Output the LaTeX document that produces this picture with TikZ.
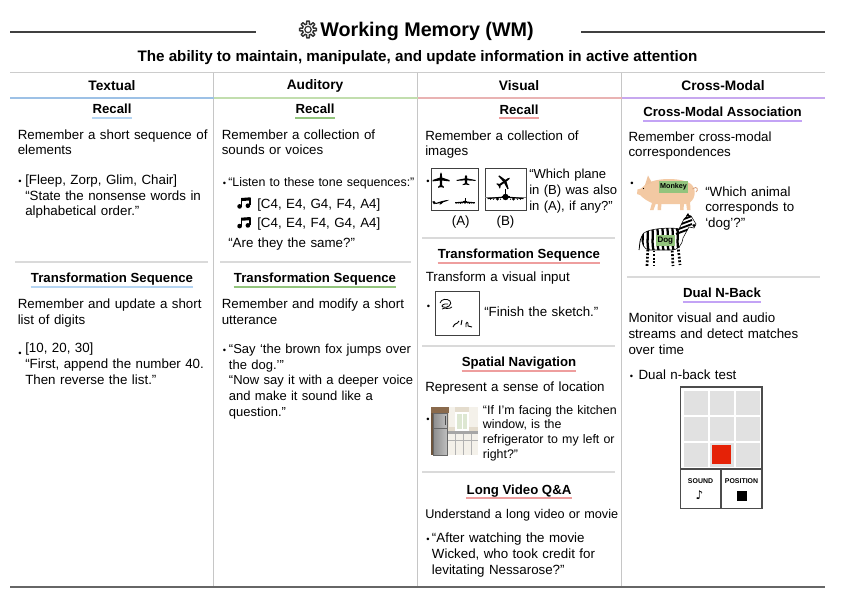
\documentclass[tikz,border=0pt]{standalone}
\usepackage{fontspec}
\setmainfont{Liberation Sans}
\newfontfamily\symfont{DejaVu Sans}
\usetikzlibrary{calc}
\definecolor{hblue}{HTML}{9DC1E6}
\definecolor{hgreen}{HTML}{C2DEAE}
\definecolor{hpink}{HTML}{E9B3B3}
\definecolor{hpurple}{HTML}{C7A8EF}
\definecolor{ublue}{HTML}{B5D5F3}
\definecolor{ugreen}{HTML}{92C47C}
\definecolor{upink}{HTML}{EE9E9E}
\definecolor{upurple}{HTML}{C3A3F5}
\definecolor{sepgray}{HTML}{DADADA}
\definecolor{divgray}{HTML}{C6C6C6}
\definecolor{cellgray}{HTML}{E1E1E1}
\definecolor{nred}{HTML}{E52207}
\definecolor{lblgreen}{HTML}{93C47D}
\definecolor{pigpink}{HTML}{F3C9A3}
\definecolor{pigedge}{HTML}{D9A07A}
\definecolor{kbeige}{HTML}{E4DCCD}
\definecolor{kwood}{HTML}{8A6A4C}
\definecolor{kwhite}{HTML}{F4F1EA}
\definecolor{kwin}{HTML}{DDE7D2}
\newcommand\bodyfont{\fontsize{10pt}{11.8pt}\selectfont}
\newcommand\smallbody{\fontsize{9.3pt}{11.1pt}\selectfont}
\newcommand\hdrfont{\fontsize{10.3pt}{12pt}\selectfont\bfseries}
\newcommand\sectfont{\fontsize{9.9pt}{12pt}\selectfont\bfseries}
\newcommand\bulfont{\fontsize{7pt}{8pt}\selectfont}
\newcommand\uline[2]{\draw[#2,line width=1.5pt] ($(#1.base west)+(0,4.3)$) -- ($(#1.base east)+(0,4.3)$);}
\newcommand\beamednotes[2]{%
  \fill (#1+2.6,#2-1.6) circle[radius=1.75pt];
  \fill (#1+10.9,#2-2.3) circle[radius=1.75pt];
  \draw[line width=1pt] (#1+4.7,#2-1.9) -- (#1+4.7,#2-9.3);
  \draw[line width=1pt] (#1+13,#2-2.6) -- (#1+13,#2-10);
  \fill (#1+4.2,#2-10) -- (#1+13.5,#2-10.7) -- (#1+13.5,#2-7.6) -- (#1+4.2,#2-6.9) -- cycle;}
\tikzset{
  body/.style={anchor=base west,inner sep=0pt,font=\bodyfont,text width=144pt,align=left},
  hdr/.style={anchor=base,inner sep=0pt,font=\hdrfont},
  sect/.style={anchor=base,inner sep=0pt,font=\sectfont},
  bul/.style={anchor=base west,inner sep=0pt,font=\bulfont},
  sepline/.style={draw=sepgray,line width=1.5pt},
  divline/.style={draw=divgray,line width=0.75pt},
  tiny/.style={anchor=base,inner sep=0pt,font=\fontsize{5.2pt}{6pt}\selectfont\bfseries},
  imgbox/.style={draw=black!75,line width=0.6pt,fill=white},
  plane/.pic={
    \fill (0,-9) .. controls (1.2,-8) and (1.2,-6) .. (1.2,-4) -- (1.2,6) -- (3.5,8) -- (3.5,9.2) -- (0.6,8.5) -- (-0.6,8.5) -- (-3.5,9.2) -- (-3.5,8) -- (-1.2,6) -- (-1.2,-4) .. controls (-1.2,-6) and (-1.2,-8) .. (0,-9) -- cycle;
    \fill (-1,-3) -- (-10,0) -- (-10,1.6) -- (-1,0.6) -- cycle;
    \fill (1,-3) -- (10,0) -- (10,1.6) -- (1,0.6) -- cycle;
  },
  sideplane/.pic={
    \fill (-10,0) .. controls (-6,-1.2) and (6,-1.4) .. (10,0) .. controls (6,1.2) and (-6,1.2) .. (-10,0) -- cycle;
    \fill (-10,0) -- (-11,-3.5) -- (-8.5,-3.5) -- (-7,-0.5) -- cycle;
    \fill (-2,0) -- (3,0) -- (-1,2.5) -- (-3,2.5) -- cycle;
  },
  frontplane/.pic={
    \draw[line width=0.9pt] (-18,1.5) -- (0,0) -- (18,1.5);
    \fill (0,0) circle[radius=2.4pt];
    \fill (-0.6,-8) rectangle (0.6,0);
    \draw[line width=0.6pt] (-4,-1) -- (4,-1);
    \fill (-8,2) circle[radius=1.2pt];
    \fill (8,2) circle[radius=1.2pt];
    \foreach \q in {-15,-12,-5,5,12,15} \fill (\q,2.3) circle[radius=0.5pt];
  }
}
\begin{document}
\begin{tikzpicture}[x=0.75pt,y=-0.75pt]
\useasboundingbox (0,0) rectangle (853,594);
\fill[white] (0,0) rectangle (853,594);

% ---------- title ----------
\draw[draw=black!80,line width=1.1pt,samples=241,domain=0:360,variable=\t]
  plot ({308+(7.0+1.4*max(-1,min(1,2.5*cos(8*\t))))*cos(\t)},{29.5+(7.0+1.4*max(-1,min(1,2.5*cos(8*\t))))*sin(\t)}) -- cycle;
\draw[draw=black!80,line width=0.9pt] (308,29.5) circle[radius=2.4pt];
\node[anchor=base west,inner sep=0pt,font=\fontsize{14.8pt}{18pt}\selectfont\bfseries] (title) at (320,36.5) {Working Memory (WM)};
\draw[draw=black!75,line width=1.1pt] (10,32) -- (256,32);
\draw[draw=black!75,line width=1.1pt] (581,32) -- (825,32);
\node[anchor=base,inner sep=0pt,font=\fontsize{11.4pt}{14pt}\selectfont\bfseries] (subtitle) at (417.5,61.7) {The ability to maintain, manipulate, and update information in active attention};

% ---------- frame ----------
\draw[draw=black!20,line width=1.1pt] (10,72.5) -- (825,72.5);
\draw[divline] (213.5,72.5) -- (213.5,586);
\draw[divline] (417.5,72.5) -- (417.5,586);
\draw[divline] (621.5,72.5) -- (621.5,586);
\draw[draw=black!60,line width=1.5pt] (10,586.5) -- (825,586.5);

\node[hdr] (h1) at (112,90.7) {Textual};
\node[hdr] (h2) at (315,89.5) {Auditory};
\node[hdr] (h3) at (519,90.7) {Visual};
\node[hdr] (h4) at (723,90.7) {Cross-Modal};
\draw[hblue,line width=2pt] (10,98) -- (213.5,98);
\draw[hgreen,line width=2pt] (213.5,98) -- (417.5,98);
\draw[hpink,line width=2pt] (417.5,98) -- (621.5,98);
\draw[hpurple,line width=2pt] (621.5,98) -- (825,98);

% ---------- Textual ----------
\node[sect] (t1) at (112,113.3) {Recall};
\uline{t1}{ublue}
\node[body] (t1d) at (17.5,139) {Remember a short sequence of\\elements};
\node[bul] (t1b) at (18,184.3) {•};
\node[body] (t1e) at (25,184.3) {[Fleep, Zorp, Glim, Chair]\\“State the nonsense words in\\alphabetical order.”};
\draw[sepline] (15,261.5) -- (208,261.5);
\node[sect] (t2) at (112,282.7) {Transformation Sequence};
\uline{t2}{ublue}
\node[body] (t2d) at (17.5,308.3) {Remember and update a short\\list of digits};
\node[bul] (t2b) at (18,356.5) {•};
\node[body] (t2e) at (25,352.7) {[10, 20, 30]\\“First, append the number 40.\\Then reverse the list.”};

% ---------- Auditory ----------
\node[sect] (a1) at (315,113.3) {Recall};
\uline{a1}{ugreen}
\node[body] (a1d) at (221.5,139) {Remember a collection of\\sounds or voices};
\node[bul] (a1b) at (222.5,186.7) {•};
\node[body,font=\smallbody] (a1e) at (228,186.7) {“Listen to these tone sequences:”};
\beamednotes{237}{208}
\node[body] (a1s1) at (257,208) {[C4, E4, G4, F4, A4]};
\beamednotes{237}{227.7}
\node[body] (a1s2) at (257,227.7) {[C4, E4, F4, G4, A4]};
\node[body] (a1q) at (228,247.7) {“Are they the same?”};
\draw[sepline] (220,261.5) -- (411,261.5);
\node[sect] (a2) at (315,282.7) {Transformation Sequence};
\uline{a2}{ugreen}
\node[body] (a2d) at (221.5,308.3) {Remember and modify a short\\utterance};
\node[bul] (a2b) at (222.5,353.3) {•};
\node[body,font=\fontsize{9.75pt}{11.8pt}\selectfont] (a2e) at (228.7,353.3) {“Say ‘the brown fox jumps over\\the dog.’”\\“Now say it with a deeper voice\\and make it sound like a\\question.”};

% ---------- Visual ----------
\node[sect] (v1) at (519,114) {Recall};
\uline{v1}{upink}
\node[body] (v1d) at (425,140) {Remember a collection of\\images};
\node[bul] (v1b) at (426.2,184.5) {•};
\draw[imgbox] (431,168.5) rectangle (478.3,210.5);
\draw[imgbox] (485.3,168.5) rectangle (526,210.5);
\pic[scale=0.85] at (441,180) {plane};
\pic[xscale=0.95,yscale=0.55] at (466,180) {plane};
\pic[scale=0.8,rotate=15] at (441.5,202) {sideplane};
\pic[scale=0.55] at (465,202) {frontplane};
\pic[scale=0.8,rotate=-55] at (504,182) {plane};
\draw[black!50,line width=0.5pt] (485.3,197.5) -- (526,197.5);
\pic[scale=1.0] at (505.5,197) {frontplane};
\node[anchor=base,inner sep=0pt,font=\bodyfont] (la) at (460.7,225) {(A)};
\node[anchor=base,inner sep=0pt,font=\bodyfont] (lb) at (505.5,225) {(B)};
\node[body,text width=66pt,font=\fontsize{9.8pt}{11.9pt}\selectfont] (v1e) at (529,178.3) {“Which plane\\in (B) was also\\in (A), if any?”};
\draw[sepline] (422,237.7) -- (615,237.7);
\node[sect] (v2) at (519,258.3) {Transformation Sequence};
\uline{v2}{upink}
\node[body] (v2d) at (425.5,281.7) {Transform a visual input};
\node[bul] (v2b) at (426.7,309) {•};
\draw[imgbox] (435,291.7) rectangle (479.3,335);
\draw[line width=0.6pt] (440,303) .. controls (441,299) and (447,298) .. (450,301) .. controls (453,304) and (447,309) .. (443,307) .. controls (440,306) and (444,303) .. (448,304);
\draw[line width=0.6pt] (442,309) .. controls (445,307) and (449,310) .. (452,307);
\draw[line width=0.7pt] (453,327) .. controls (455,322) and (457,325) .. (459,321);
\draw[line width=0.7pt] (461,325) -- (462,320);
\draw[line width=0.7pt] (466,327) .. controls (465,321) and (469,321) .. (468,326) -- (472,327);
\node[body,text width=100pt] (v2e) at (484,316.7) {“Finish the sketch.”};
\draw[sepline] (422,345.7) -- (615,345.7);
\node[sect] (v3) at (519,366.7) {Spatial Navigation};
\uline{v3}{upink}
\node[body] (v3d) at (425,391.7) {Represent a sense of location};
\node[bul] (v3b) at (426.2,422) {•};
\fill[kbeige] (431,407) rectangle (478.3,455);
\fill[kwood] (431,407) rectangle (449,413);
\fill[kwood!80!black] (431,413) rectangle (433,455);
\shade[left color=black!45,right color=black!25] (433,413) rectangle (447,455);
\draw[black!60,line width=0.4pt] (433,413) rectangle (447,455);
\draw[black!60,line width=0.4pt] (433,428) -- (447,428);
\draw[black!70,line width=0.6pt] (445,416) -- (445,425);
\fill[kwhite] (449,407) rectangle (455,427);
\fill[kwhite] (469,407) rectangle (478.3,427);
\fill[kwin] (456,413) rectangle (468,430);
\draw[white,line width=0.8pt] (456,413) rectangle (468,430);
\draw[white,line width=0.5pt] (462,413) -- (462,430);
\fill[black!35] (448,431) rectangle (478.3,434);
\fill[kwhite] (448,434) rectangle (478.3,455);
\draw[black!30,line width=0.4pt] (455,434) -- (455,455) (463,434) -- (463,455) (471,434) -- (471,455) (448,440) -- (478.3,440);
\node[body,text width=102pt,font=\smallbody] (v3e) at (482.7,414) {“If I’m facing the kitchen\\window, is the\\refrigerator to my left or\\right?”};
\draw[sepline] (422,471.7) -- (615,471.7);
\node[sect] (v4) at (519,494) {Long Video Q\&A};
\uline{v4}{upink}
\node[body,text width=150pt,font=\fontsize{9.5pt}{11.8pt}\selectfont] (v4d) at (425,518.3) {Understand a long video or movie};
\node[bul] (v4b) at (426.2,542.7) {•};
\node[body] (v4e) at (431.7,542.7) {“After watching the movie\\Wicked, who took credit for\\levitating Nessarose?”};

% ---------- Cross-Modal ----------
\node[sect] (c1) at (722.5,116.7) {Cross-Modal Association};
\uline{c1}{upurple}
\node[body] (c1d) at (628.3,141) {Remember cross-modal\\correspondences};
\node[bul] (c1b) at (630.2,186) {•};
% pig
\fill[pigpink] (652,203) -- (650,210) -- (653.5,210) -- (656,203) -- cycle;
\fill[pigpink] (658,203) -- (657.5,210) -- (661,210) -- (661.5,203) -- cycle;
\fill[pigpink] (680,203) -- (680,210) -- (683.5,210) -- (684,203) -- cycle;
\fill[pigpink] (686,202) -- (687,210) -- (690.5,210) -- (690,201) -- cycle;
\fill[pigpink] (645,185) .. controls (654,177) and (684,177) .. (692,185) .. controls (697,191) and (695,201) .. (687,204) -- (655,204) .. controls (648,202) and (643,198) .. (640,195) -- (637,194) -- (637.5,189.5) -- (641,188.5) -- cycle;
\fill[pigpink!85!pigedge] (645,185) -- (648,175.5) -- (652,183) -- cycle;
\fill[black] (643.5,188.5) circle[radius=0.5pt];
\draw[pigedge,line width=0.6pt] (692.5,189) .. controls (697,185) and (699,190) .. (696,192);
\node[inner sep=0pt,fill=lblgreen,minimum width=21.75pt,minimum height=9pt,font=\fontsize{5.4pt}{6pt}\selectfont\bfseries] (mk) at (673.5,186.7) {Monkey};
% zebra
\draw[line width=2pt,dash pattern=on 1.4pt off 1.3pt] (648,246) -- (647,266);
\draw[line width=2pt,dash pattern=on 1.4pt off 1.3pt] (654,247) -- (654,266);
\draw[line width=2pt,dash pattern=on 1.4pt off 1.3pt] (672,247) -- (673,266);
\draw[line width=2pt,dash pattern=on 1.4pt off 1.3pt] (678,246) -- (680,265);
\draw[line width=0.6pt] (642,236) .. controls (639,241) and (640,246) .. (639,250);
\begin{scope}
  \clip (642,236) .. controls (642,228) and (674,227) .. (679,229) -- (684,219) -- (688,215) -- (691,216) -- (696,224) -- (694,228) -- (689,227) -- (683,238) .. controls (682,246) and (677,250) .. (672,250) -- (649,250) .. controls (644,249) and (641,244) .. (642,236) -- cycle;
  \fill[white] (630,210) rectangle (700,270);
  \foreach \xx in {642,647,...,677} \draw[line width=1.7pt] (\xx,226) .. controls (\xx+2,236) and (\xx-1,242) .. (\xx+2,252);
  \foreach \yy in {216,220,224,228} \draw[line width=1.4pt] (676,\yy+6) -- (692,\yy);
\end{scope}
\draw[line width=0.4pt] (642,236) .. controls (642,228) and (674,227) .. (679,229) -- (684,219) -- (688,215) -- (691,216) -- (696,224) -- (694,228) -- (689,227) -- (683,238) .. controls (682,246) and (677,250) .. (672,250) -- (649,250) .. controls (644,249) and (641,244) .. (642,236) -- cycle;
\fill (694,225.5) circle[radius=1.2pt];
\fill (688,213) -- (686,216) -- (689.5,216) -- cycle;
\node[inner sep=0pt,fill=lblgreen,minimum width=14.5pt,minimum height=8.25pt,font=\fontsize{6pt}{7pt}\selectfont\bfseries] (dg) at (665.3,240.5) {Dog};
\node[body,text width=85pt] (c1e) at (705,196) {“Which animal\\corresponds to\\‘dog’?”};
\draw[sepline] (627,277) -- (820,277);
\node[sect] (c2) at (722,297.3) {Dual N-Back};
\uline{c2}{upurple}
\node[body] (c2d) at (628.3,322.7) {Monitor visual and audio\\streams and detect matches\\over time};
\node[bul] (c2b) at (629.7,379.3) {•};
\node[body] (c2e) at (638.3,379.3) {Dual n-back test};
% grid
\foreach \i in {0,1,2} \foreach \j in {0,1,2}
  \fill[cellgray] ({683.5+26.1*\i},{390.5+26*\j}) rectangle ++(24,24);
\fill[nred] (712,445) rectangle (731,464);
\draw[draw=black!70,line width=0.8pt] (680.5,387) rectangle (762,508.5);
\draw[draw=black!70,line width=0.8pt] (680.5,469) -- (762,469);
\draw[draw=black!70,line width=0.8pt] (721,469) -- (721,508.5);
\node[tiny] (snd) at (700.5,483) {SOUND};
\node[anchor=base,inner sep=0pt,font=\symfont\fontsize{9pt}{10pt}\selectfont] (note) at (699.5,499.5) {♪};
\node[tiny] (pos) at (741.5,483.5) {POSITION};
\fill (737,491) rectangle (747,501);
\end{tikzpicture}
\end{document}
